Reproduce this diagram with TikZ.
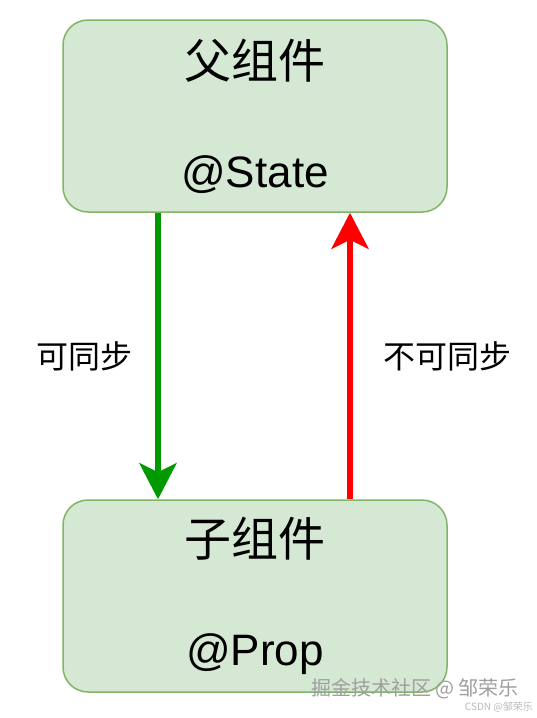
\documentclass[tikz,border=0pt]{standalone}
\usepackage{fontspec}
\setmainfont{Liberation Sans}
\newfontfamily\cjk{Noto Sans CJK SC}
\usepackage{xcolor}
\definecolor{boxFill}{HTML}{D5E8D4}
\definecolor{boxLine}{HTML}{82B366}
\definecolor{syncGreen}{HTML}{009900}
\definecolor{noSyncRed}{HTML}{FF0000}
\usetikzlibrary{positioning,calc,arrows.meta}
\tikzset{%
  compBox/.style={%
    rectangle,
    rounded corners=25pt,
    draw=boxLine,
    line width=1.5pt,
    fill=boxFill,
    minimum width=384pt,
    minimum height=192pt,
    align=center,
    inner sep=0pt
  },
  syncArrow/.style={%
    -{Stealth[length=36pt,width=37pt,inset=9pt]},
    line width=6pt
  },
  arrowLabel/.style={%
    font=\fontsize{32pt}{36pt}\selectfont\cjk,
    inner sep=0pt
  },
  markText/.style={%
    text=gray!75,
    inner sep=0pt
  }
}

\begin{document}
\begin{tikzpicture}[x=1pt,y=1pt]
            \useasboundingbox (0,0) rectangle (536,-718);
            \node[compBox] (parent) at (255,-116)
                {{\fontsize{47pt}{56pt}\selectfont\cjk 父组件}\\[72pt]{\fontsize{44pt}{52pt}\selectfont @State}};
            \node[compBox] (child) at (255,-596)
                {{\fontsize{47pt}{56pt}\selectfont\cjk 子组件}\\[72pt]{\fontsize{44pt}{52pt}\selectfont @Prop}};

            \draw[syncArrow, syncGreen] ([xshift=-97pt]parent.south) -- ([xshift=-97pt]child.north)
                node[pos=0.5, left=23pt, arrowLabel, text=black] (syncLbl) {可同步};
            \draw[syncArrow, noSyncRed] ([xshift=95pt]child.north) -- ([xshift=95pt]parent.south)
                node[pos=0.5, right=30pt, arrowLabel, text=black] (noSyncLbl) {不可同步};

            \node[markText, font=\fontsize{20pt}{24pt}\selectfont\cjk] (juejin) at (415,-689) {掘金技术社区 @ 邹荣乐};
            \node[markText, text=gray!55, font=\fontsize{10pt}{12pt}\selectfont\cjk, anchor=east] (csdn) at (533,-707) {CSDN @邹荣乐};
        \end{tikzpicture}
\end{document}
